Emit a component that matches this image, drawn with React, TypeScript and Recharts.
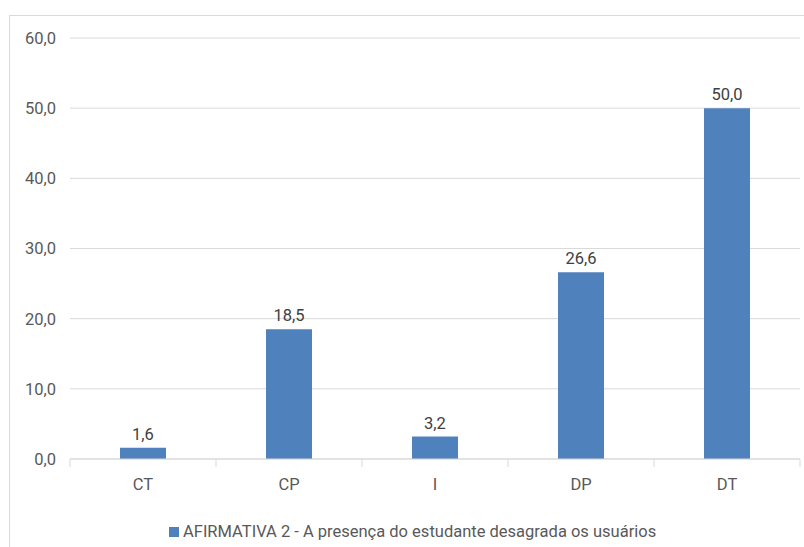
import React from 'react';
import { BarChart, Bar, XAxis, YAxis, CartesianGrid, LabelList } from 'recharts';

const categories = ['CT', 'CP', 'I', 'DP', 'DT'];
const values = [1.6, 18.5, 3.2, 26.6, 50.0];
const yTicks = [0, 10, 20, 30, 40, 50, 60];
const seriesName = 'AFIRMATIVA 2 - A presença do estudante desagrada os usuários';

const data = categories.map((c, i) => ({ name: c, value: values[i] }));

const W = 804;
const H = 547;
const PLOT_LEFT = 70;
const PLOT_RIGHT = 800;
const HALF_BAND = (PLOT_RIGHT - PLOT_LEFT) / categories.length / 2;
const FONT = 'Roboto, "Liberation Sans", Arial, sans-serif';
const FS = 16.5;
const BLUE = '#4F81BD';
const GRID = '#d9d9d9';

const fmt = (v: number) => v.toFixed(1).replace('.', ',');

// category label plus tick marks on the band edges
const CategoryTick = (props: any) => {
  const { x, y, payload, index } = props;
  const last = index === categories.length - 1;
  return (
    <g>
      <line x1={x - HALF_BAND} y1={y - 8} x2={x - HALF_BAND} y2={y} stroke={GRID} />
      {last && <line x1={x + HALF_BAND} y1={y - 8} x2={x + HALF_BAND} y2={y} stroke={GRID} />}
      <text x={x} y={y + 23} textAnchor="middle" fill="#595959" fontSize={FS} fontFamily={FONT}>
        {payload.value}
      </text>
    </g>
  );
};

export default function App() {
  return (
    <div style={{ position: 'fixed', left: 0, top: 0, width: W, height: H, overflow: 'hidden', background: '#fff' }}>
      <div
        style={{
          position: 'absolute',
          left: 9,
          top: 15,
          width: 830,
          height: 560,
          border: `1px solid ${GRID}`,
          boxSizing: 'border-box',
        }}
      />
      <div style={{ position: 'absolute', left: 0, top: 0 }}>
        <BarChart width={W} height={H} data={data} margin={{ top: 38, right: W - PLOT_RIGHT, bottom: 58, left: 0 }}>
          <CartesianGrid vertical={false} stroke={GRID} />
          <YAxis
            width={PLOT_LEFT}
            domain={[0, 60]}
            ticks={yTicks}
            tickFormatter={fmt}
            axisLine={false}
            tickLine={false}
            tickMargin={8}
            tick={{ fill: '#595959', fontSize: FS, fontFamily: FONT }}
          />
          <XAxis
            dataKey="name"
            height={30}
            axisLine={{ stroke: GRID }}
            tickLine={false}
            tick={<CategoryTick />}
            interval={0}
          />
          <Bar dataKey="value" name={seriesName} fill={BLUE} barSize={46} isAnimationActive={false}>
            <LabelList
              dataKey="value"
              position="top"
              offset={8}
              formatter={(v: any) => fmt(Number(v))}
              fill="#404040"
              fontSize={FS}
              fontFamily={FONT}
            />
          </Bar>
        </BarChart>
      </div>
      <div
        style={{
          position: 'absolute',
          left: 169,
          top: 522,
          display: 'flex',
          alignItems: 'center',
          whiteSpace: 'nowrap',
          fontFamily: FONT,
          fontSize: FS,
          color: '#595959',
        }}
      >
        <span style={{ display: 'inline-block', width: 10, height: 10, background: BLUE, marginRight: 4 }} />
        <span>{seriesName}</span>
      </div>
    </div>
  );
}
